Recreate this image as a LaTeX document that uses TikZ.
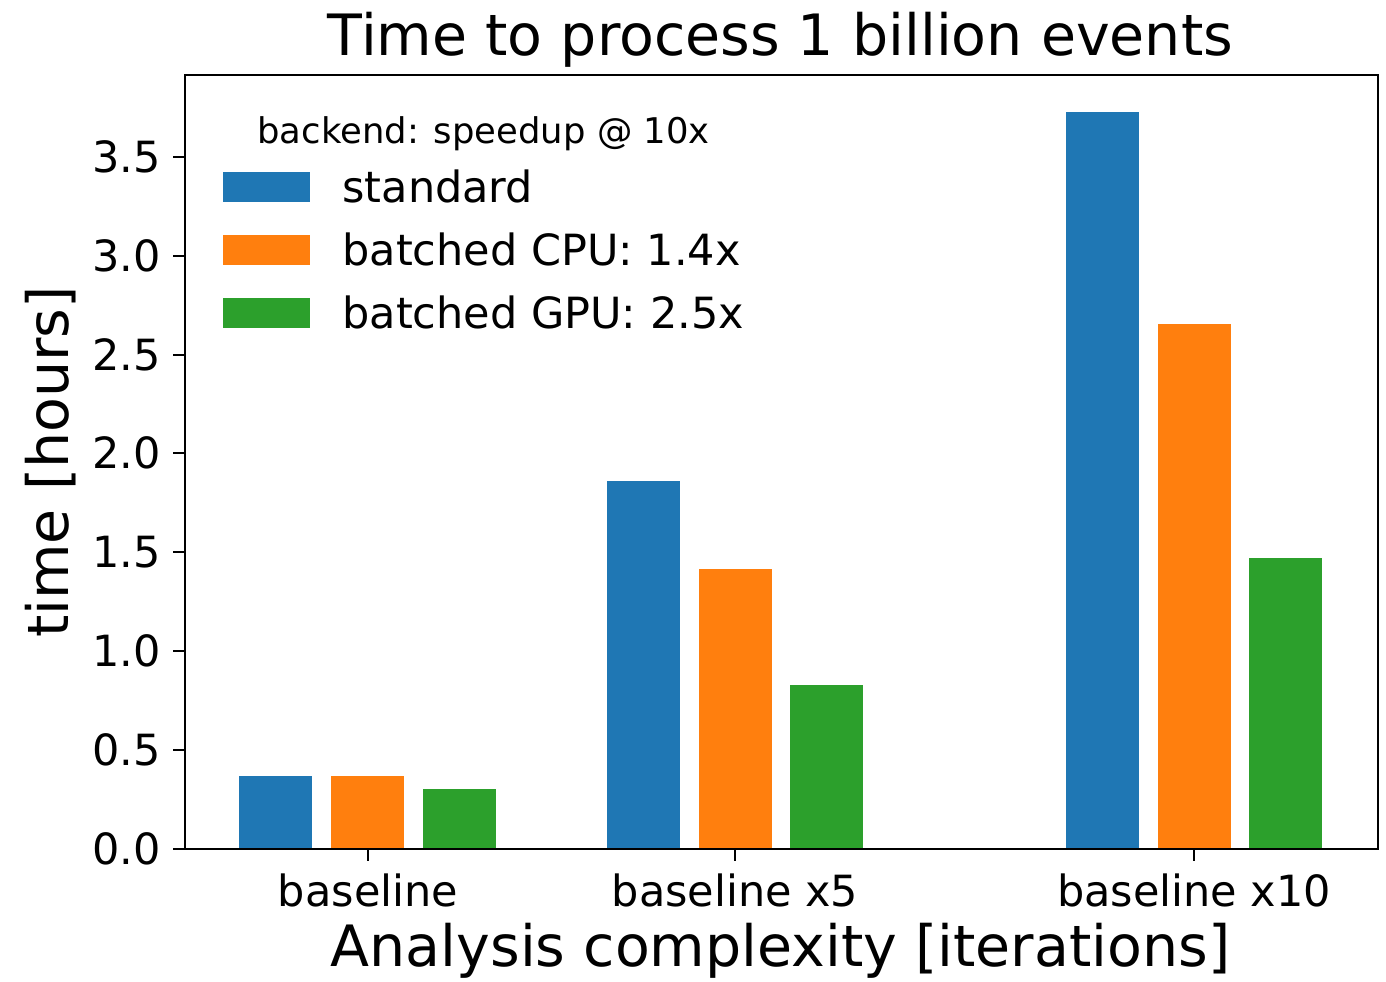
\documentclass[tikz,border=0pt]{standalone}
\usepackage{fontspec}
\setmainfont{DejaVu Sans}
\definecolor{cblue}{HTML}{1F77B4}
\definecolor{corange}{HTML}{FF7F0E}
\definecolor{cgreen}{HTML}{2CA02C}
\tikzset{
  big/.style={inner sep=0pt, font=\fontsize{28.5}{32}\selectfont},
  ticklab/.style={inner sep=0pt, font=\fontsize{21.5}{25}\selectfont},
  legtitle/.style={inner sep=0pt, font=\fontsize{17.7}{21}\selectfont},
  spine/.style={line width=1.3pt, line cap=rect},
  tickmark/.style={line width=1.3pt},
}
\begin{document}
\begin{tikzpicture}[x=0.5pt,y=-0.5pt]
\useasboundingbox (0,0) rectangle (1386,981);
\fill[white] (0,0) rectangle (1386,981);
% bars
\fill[cblue]   (239,849) rectangle (312,776);
\fill[corange] (331,849) rectangle (404,776);
\fill[cgreen]  (423,849) rectangle (496,789);
\fill[cblue]   (607,849) rectangle (680,481);
\fill[corange] (699,849) rectangle (772,569);
\fill[cgreen]  (790,849) rectangle (863,685);
\fill[cblue]   (1066,849) rectangle (1139,112);
\fill[corange] (1158,849) rectangle (1231,324);
\fill[cgreen]  (1249,849) rectangle (1322,558);
% axes
\draw[spine] (185,75) rectangle (1378,849);
% y ticks
\foreach \v/\yy [count=\i] in {0.0/849,0.5/750,1.0/651,1.5/552,2.0/453,2.5/355,3.0/256,3.5/157}{
  \draw[tickmark] (185,\yy) -- (173,\yy);
  \node[ticklab, anchor=east] (yt\i) at (161,\yy) {\v};
}
% x ticks
\foreach \xx/\t [count=\i] in {368/baseline,735/baseline x5,1194/baseline x10}{
  \draw[tickmark] (\xx,849) -- (\xx,861);
  \node[ticklab, anchor=base] (xt\i) at (\xx,906) {\t};
}
% labels
\node[big, anchor=base] (title) at (780.5,55) {Time to process 1 billion events};
\node[big, anchor=base] (xlab) at (780.5,966) {Analysis complexity [iterations]};
\node[big, anchor=base, rotate=90] (ylab) at (68,462) {time [hours]};
% legend
\node[legtitle, anchor=base west] (legt) at (257,143) {backend: speedup @ 10x};
\fill[cblue]   (223,172) rectangle (310,202);
\fill[corange] (223,235) rectangle (310,265);
\fill[cgreen]  (223,298) rectangle (310,328);
\node[ticklab, anchor=base west] (l1) at (342,202) {standard};
\node[ticklab, anchor=base west] (l2) at (342,265) {batched CPU: 1.4x};
\node[ticklab, anchor=base west] (l3) at (342,328) {batched GPU: 2.5x};
\end{tikzpicture}
\end{document}
